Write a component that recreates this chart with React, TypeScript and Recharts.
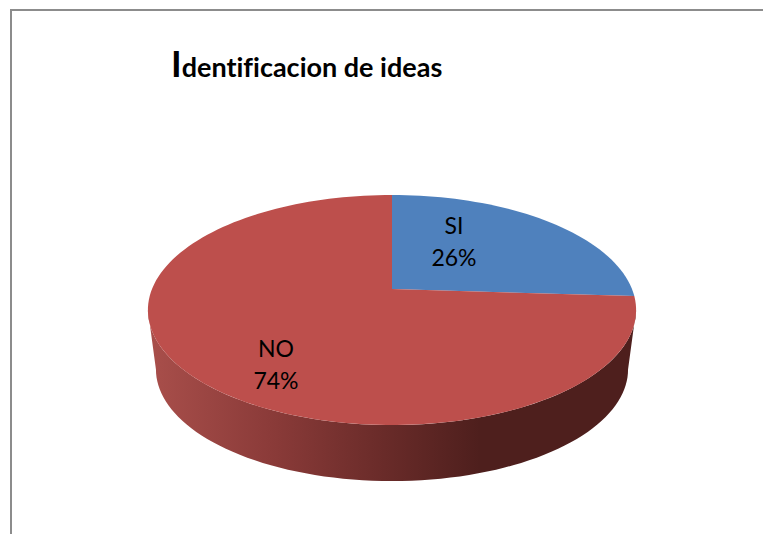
import { Cell, Pie, PieChart } from "recharts";

const categories = ["SI", "NO"];
const shares = [26, 74];
const sliceColors = ["#4f81bd", "#bd4f4c"];
const chartTitle = "dentificacion de ideas";

const pieData = categories.map((name, i) => ({ name, value: shares[i] }));

const WIDTH = 763;
const HEIGHT = 534;
const FONT = "Lato, 'Open Sans', sans-serif";

// tilt of the disc: the near side looks bigger, so the centre sits above the ellipse middle
const TILT = 0.1826;
const SQUASH = 0.4633;
const RIM_MID_Y = 21; // rim widest point, below the apex
const DEPTH_Y = 59.5;
const DEPTH_SCALE = 0.967;
const LABEL_OFFSETS: Record<string, [number, number]> = { SI: [62, -47], NO: [-116, 76] };

const RAD = Math.PI / 180;

function project(cx: number, cy: number, r: number, deg: number, scale = 1) {
  const u = Math.cos(deg * RAD);
  const v = Math.sin(deg * RAD) * scale;
  const w = 1 + TILT * v;
  return [cx + (r * u * scale) / w, cy - (r * SQUASH * v) / w];
}

function rim(cx: number, cy: number, r: number, from: number, to: number) {
  const steps = Math.max(2, Math.ceil(Math.abs(to - from) / 2));
  const pts: number[][] = [];
  for (let i = 0; i <= steps; i++) {
    pts.push(project(cx, cy, r, from + ((to - from) * i) / steps));
  }
  return pts;
}

function toPath(pts: number[][]) {
  return pts.map((p, i) => `${i ? "L" : "M"}${p[0].toFixed(2)},${p[1].toFixed(2)}`).join(" ") + " Z";
}

function DiscSlice(props: any) {
  const { cx, cy, outerRadius, startAngle, endAngle, fill } = props;
  const top = rim(cx, cy, outerRadius, startAngle, endAngle);

  // only the front of the rim has a visible wall
  const wallFrom = Math.min(startAngle, -10.5);
  const wallTo = Math.max(endAngle, -169.5);
  let wall = null;
  if (wallFrom > wallTo) {
    const upper = rim(cx, cy, outerRadius, wallFrom, wallTo);
    const midY = cy + RIM_MID_Y;
    const lower = upper
      .map((p) => [cx + (p[0] - cx) * DEPTH_SCALE, midY + DEPTH_Y + (p[1] - midY) * 0.97])
      .reverse();
    wall = <path d={toPath([...upper, ...lower])} fill="url(#wallShade)" />;
  }

  return (
    <g>
      {wall}
      <path d={toPath([[cx, cy], ...top])} fill={fill} />
    </g>
  );
}

function SliceLabel(props: any) {
  const { cx, cy, name, percent } = props;
  const [dx, dy] = LABEL_OFFSETS[name];
  return (
    <text x={cx + dx} y={cy + dy} textAnchor="middle" fontFamily={FONT} fontSize={23} fill="#000">
      <tspan x={cx + dx} dy={-8}>
        {name}
      </tspan>
      <tspan x={cx + dx} dy={32}>
        {`${Math.round(percent * 100)}%`}
      </tspan>
    </text>
  );
}

export default function App() {
  return (
    <div style={{ position: "absolute", left: 0, top: 0, width: WIDTH, height: HEIGHT, overflow: "hidden", background: "#fff" }}>
      <div
        style={{
          position: "absolute",
          left: 10,
          top: 9,
          width: WIDTH,
          height: HEIGHT,
          borderLeft: "2px solid #8c8c8c",
          borderTop: "2px solid #8c8c8c",
        }}
      />
      <div style={{ position: "absolute", left: 0, top: 0 }}>
        <PieChart width={WIDTH} height={HEIGHT} margin={{ top: 0, right: 0, bottom: 0, left: 0 }}>
          <defs>
            <linearGradient id="wallShade" gradientUnits="userSpaceOnUse" x1={148} y1={0} x2={636} y2={0}>
              <stop offset="0" stopColor="#a94f4b" />
              <stop offset="0.25" stopColor="#8b3b39" />
              <stop offset="0.5" stopColor="#672a28" />
              <stop offset="0.68" stopColor="#4e1f1d" />
              <stop offset="1" stopColor="#4e1f1d" />
            </linearGradient>
          </defs>
          <text
            x={171}
            y={77}
            fontFamily={FONT}
            fontWeight={700}
            fontSize={27}
            fill="#000"
            style={{ fontVariantLigatures: "none" }}
          >
            <tspan fontSize={36}>I</tspan>
            <tspan>{chartTitle}</tspan>
          </text>
          <Pie
            data={pieData}
            dataKey="value"
            nameKey="name"
            cx={392}
            cy={289}
            innerRadius={0}
            outerRadius={240}
            startAngle={90}
            endAngle={-270}
            stroke="none"
            shape={DiscSlice}
            label={SliceLabel}
            labelLine={false}
            isAnimationActive={false}
          >
            {pieData.map((entry, index) => (
              <Cell key={entry.name} fill={sliceColors[index]} />
            ))}
          </Pie>
        </PieChart>
      </div>
    </div>
  );
}
